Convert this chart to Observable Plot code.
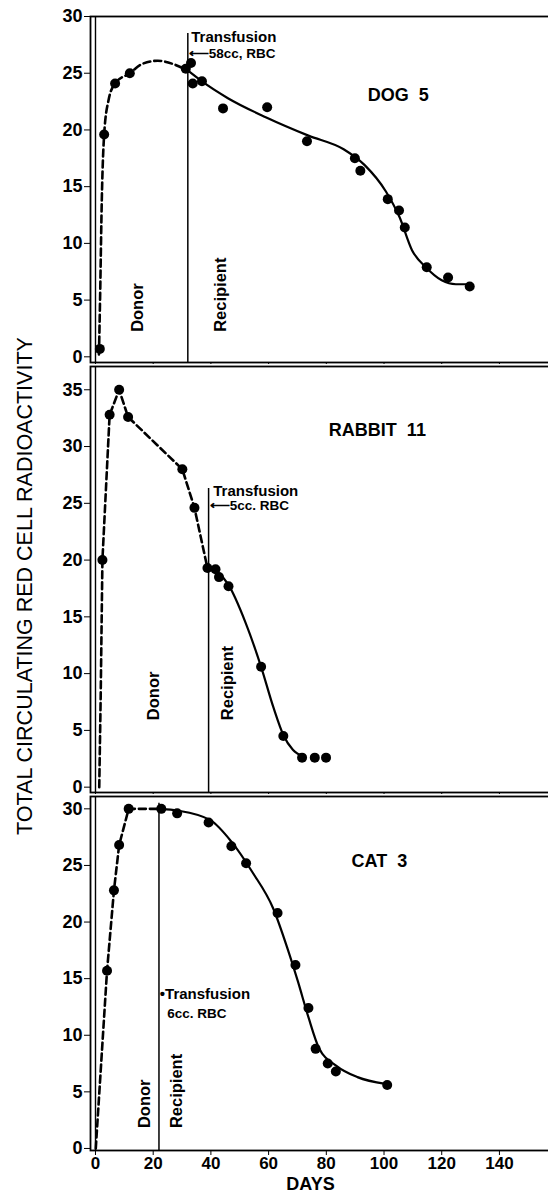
<!DOCTYPE html>
<html>
<head>
<meta charset="utf-8">
<script src="https://cdn.jsdelivr.net/npm/d3@7"></script>
<script src="https://cdn.jsdelivr.net/npm/@observablehq/plot@0.6"></script>
<style>
  body { margin: 0; background: #fff; }
  #wrap { position: relative; width: 548px; height: 1199px; overflow: hidden; background: #fff; }
  #wrap svg { display: block; overflow: visible; }
  #ytitle {
    position: absolute; left: 25px; top: 586px;
    transform: translate(-50%, -50%) rotate(-90deg);
    white-space: nowrap; font: 21.5px "Liberation Sans", Arial, sans-serif; color: #000;
  }
</style>
</head>
<body>
<div id="wrap"><div id="ytitle"></div></div>
<script>
// ---------- data ----------
const xLabel = "DAYS";
const yLabel = "TOTAL CIRCULATING RED CELL RADIOACTIVITY";
const xTicks = [0, 20, 40, 60, 80, 100, 120, 140];
const dogTicks = [0, 5, 10, 15, 20, 25, 30];
const rabbitTicks = [0, 5, 10, 15, 20, 25, 30, 35];
const catTicks = [0, 5, 10, 15, 20, 25, 30];

const panelTitles = ["DOG\u00a0\u00a05", "RABBIT\u00a0\u00a011", "CAT\u00a0\u00a03"];
const transfusionDays = [32, 39.2, 22];
const transfusionTops = [28.5, 26.3, 30.5];
const transfusionLabels = ["Transfusion", "Transfusion", "\u2022Transfusion"];
const doseLabels = ["\u27f558cc, RBC", "\u27f55cc. RBC", "6cc. RBC"];
const phaseLabels = ["Donor", "Recipient"];

// DOG 5
const dogDays   = [1.5, 3.0, 6.8, 11.9, 31.3, 33.1, 33.7, 36.9, 44.2, 59.5, 73.3, 89.9, 91.8, 101.3, 105.2, 107.2, 114.8, 122.2, 129.7];
const dogValues = [0.7, 19.6, 24.1, 25.0, 25.4, 25.9, 24.1, 24.3, 21.9, 22.0, 19.0, 17.5, 16.4, 13.9, 12.9, 11.4, 7.9, 7.0, 6.2];
const dogDonorDays   = [1.2, 1.6, 2.2, 3.0, 4.5, 6.8, 11.9, 16.0, 21.6, 27.0, 31.5];
const dogDonorValues = [0.2, 5.3, 14.0, 19.6, 22.6, 24.1, 25.0, 25.8, 26.1, 25.8, 25.3];
const dogRecipDays   = [32.2, 36.8, 45.9, 59.2, 73.8, 86.0, 93.3, 100.6, 105.4, 109.7, 114.5, 120.0, 124.9, 129.1];
const dogRecipValues = [25.2, 24.3, 22.8, 21.1, 19.5, 18.3, 16.9, 14.6, 12.3, 9.4, 7.9, 6.75, 6.4, 6.4];

// RABBIT 11
const rabbitDays   = [2.4, 4.9, 8.2, 11.3, 30.1, 34.3, 38.8, 41.6, 42.8, 46.1, 57.4, 65.1, 71.6, 76.0, 79.9];
const rabbitValues = [20.0, 32.8, 35.0, 32.6, 28.0, 24.6, 19.3, 19.2, 18.5, 17.7, 10.6, 4.5, 2.6, 2.6, 2.6];
const rabbitDonorDays   = [1.3, 1.8, 2.4, 4.9, 8.2, 11.3, 30.1, 34.3, 38.8];
const rabbitDonorValues = [0.0, 8.0, 20.0, 32.8, 35.0, 32.6, 28.0, 24.6, 19.3];
const rabbitRecipDays   = [38.8, 45.9, 52.0, 57.4, 61.7, 65.1, 68.4, 72.0];
const rabbitRecipValues = [19.4, 17.9, 14.5, 10.6, 7.0, 4.6, 3.3, 2.7];

// CAT 3
const catDays   = [4.0, 6.4, 8.2, 11.5, 22.8, 28.3, 39.2, 47.1, 52.2, 63.1, 69.3, 73.8, 76.3, 80.5, 83.3, 101.1];
const catValues = [15.7, 22.8, 26.8, 30.0, 30.0, 29.6, 28.8, 26.7, 25.2, 20.8, 16.2, 12.4, 8.8, 7.5, 6.8, 5.6];
const catDonorDays   = [0.1, 4.0, 6.4, 8.2, 11.5, 22.8];
const catDonorValues = [0.0, 15.7, 22.8, 26.8, 30.0, 30.0];
const catRecipDays   = [22.8, 28.3, 39.8, 47.1, 54.4, 61.6, 66.5, 70.1, 73.8, 77.4, 83.5, 90.8, 100.5];
const catRecipValues = [30.0, 29.85, 29.0, 27.1, 24.4, 21.2, 17.7, 14.8, 11.6, 8.9, 7.3, 6.3, 5.7];

// ---------- drawing ----------
const zip = (xs, ys) => xs.map((d, i) => ({day: d, value: ys[i]}));
const FONT = '"Liberation Sans", Arial, sans-serif';

function panel(c) {
  const marks = [
    Plot.frame({stroke: "black", strokeWidth: 1.8}),
    Plot.ruleX([0], {stroke: "black", strokeWidth: 1.4}),
    Plot.axisY({ticks: c.yTicks, tickSize: 6, tickPadding: 2, fontSize: 18, fontWeight: "bold", label: null, tickFormat: d => d}),
    c.bottom
      ? Plot.axisX({ticks: xTicks, tickSize: 5, tickPadding: 1, fontSize: 17, fontWeight: "bold", label: null, tickFormat: d => d})
      : Plot.axisX({ticks: xTicks, tickSize: 2, label: null, tickFormat: () => ""}),
    Plot.ruleX([{day: c.tDay, top: c.tTop}], {x: "day", y1: c.yDomain[0], y2: "top", stroke: "black", strokeWidth: 1.5}),
    Plot.line(c.donor, {x: "day", y: "value", stroke: "black", strokeWidth: 2.6, strokeDasharray: "7,4", curve: c.donorCurve}),
    Plot.line(c.recip, {x: "day", y: "value", stroke: "black", strokeWidth: 2.2, curve: "monotone-x"}),
    Plot.dot(c.points, {x: "day", y: "value", r: 5, fill: "black"}),
    Plot.text([c.title], {x: c.titlePos[0], y: c.titlePos[1], fontSize: 18, fontWeight: "bold", textAnchor: "middle"}),
    Plot.text([c.transLabel], {x: c.transPos[0], y: c.transPos[1], fontSize: 15, fontWeight: "bold", textAnchor: "start"}),
    Plot.text([c.doseLabel], {x: c.dosePos[0], y: c.dosePos[1], fontSize: 13.5, fontWeight: "bold", textAnchor: "start"}),
    Plot.text([phaseLabels[0]], {x: c.donorPos[0], y: c.donorPos[1], rotate: -90, fontSize: 16.5, fontWeight: "bold", textAnchor: "start"}),
    Plot.text([phaseLabels[1]], {x: c.recipPos[0], y: c.recipPos[1], rotate: -90, fontSize: 16.5, fontWeight: "bold", textAnchor: "start"})
  ];
  if (c.bottom) {
    marks.push(Plot.text([xLabel], {frameAnchor: "bottom", dx: -10, dy: 39, fontSize: 18, fontWeight: "bold"}));
  }
  return Plot.plot({
    width: 548, height: c.height,
    marginLeft: 90, marginRight: -2, marginTop: c.marginTop, marginBottom: c.marginBottom,
    x: {domain: [-1.73, 157.7]},
    y: {domain: c.yDomain},
    style: {fontFamily: FONT, fontSize: "18px", color: "black", background: "transparent", overflow: "visible"},
    marks
  });
}

const wrap = document.getElementById("wrap");
document.getElementById("ytitle").textContent = yLabel;

wrap.appendChild(panel({
  height: 364, marginTop: 16, marginBottom: 2, yDomain: [-0.5, 30], yTicks: dogTicks,
  points: zip(dogDays, dogValues), donor: zip(dogDonorDays, dogDonorValues), donorCurve: "monotone-x",
  recip: zip(dogRecipDays, dogRecipValues),
  tDay: transfusionDays[0], tTop: transfusionTops[0],
  title: panelTitles[0], titlePos: [104.9, 23.1],
  transLabel: transfusionLabels[0], transPos: [33.2, 28.2],
  doseLabel: doseLabels[0], dosePos: [32.3, 26.7],
  donorPos: [14.6, 2.2], recipPos: [43.3, 2.2]
}));

wrap.appendChild(panel({
  height: 430, marginTop: 2, marginBottom: 2, yDomain: [-0.47, 37.05], yTicks: rabbitTicks,
  points: zip(rabbitDays, rabbitValues), donor: zip(rabbitDonorDays, rabbitDonorValues), donorCurve: "linear",
  recip: zip(rabbitRecipDays, rabbitRecipValues),
  tDay: transfusionDays[1], tTop: transfusionTops[1],
  title: panelTitles[1], titlePos: [97.7, 31.4],
  transLabel: transfusionLabels[1], transPos: [40.8, 26.1],
  doseLabel: doseLabels[1], dosePos: [39.6, 24.8],
  donorPos: [20.1, 5.9], recipPos: [46.0, 5.9]
}));

wrap.appendChild(panel({
  height: 405, marginTop: 2, marginBottom: 49, yDomain: [-0.18, 31.09], yTicks: catTicks, bottom: true,
  points: zip(catDays, catValues), donor: zip(catDonorDays, catDonorValues), donorCurve: "linear",
  recip: zip(catRecipDays, catRecipValues),
  tDay: transfusionDays[2], tTop: transfusionTops[2],
  title: panelTitles[2], titlePos: [98.4, 25.4],
  transLabel: transfusionLabels[2], transPos: [22.3, 13.6],
  doseLabel: doseLabels[2], dosePos: [24.9, 11.9],
  donorPos: [17.2, 1.8], recipPos: [28.2, 1.8]
}));
</script>
</body>
</html>
